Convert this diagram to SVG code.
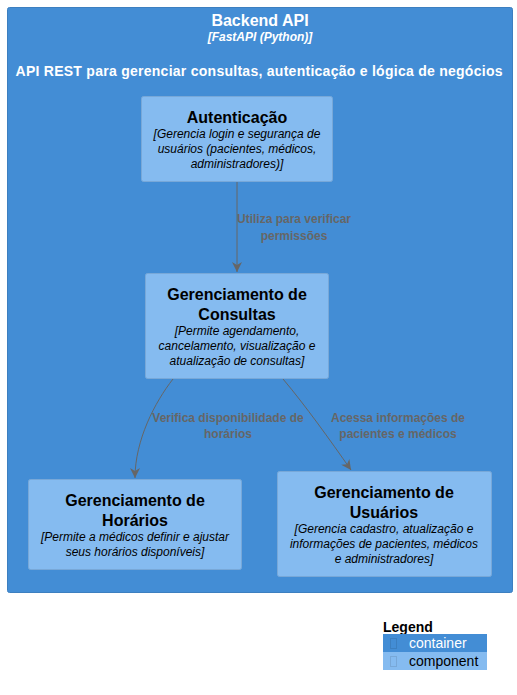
<svg xmlns="http://www.w3.org/2000/svg" width="517" height="695" viewBox="0 0 517 695">
<style>
.t{font-family:"Liberation Sans",Arial,sans-serif;text-anchor:middle}
.ct{font-size:16px;font-weight:bold;fill:#fff}
.ctech{font-size:12px;font-weight:bold;font-style:italic;fill:#fff}
.cdesc{font-size:14px;font-weight:bold;fill:#fff}
.comp{fill:#85BBF0;stroke:#78A8D8;stroke-width:1}
.nt{font-size:16px;font-weight:bold;fill:#000}
.nd{font-size:12px;font-style:italic;fill:#000}
.lbl{font-size:12px;font-weight:bold;fill:#666}
.edge{fill:none;stroke:#666;stroke-width:1}
</style>
<defs>
<marker id="arr" viewBox="0 0 10 10" refX="10" refY="5" markerWidth="10" markerHeight="10" markerUnits="userSpaceOnUse" orient="auto">
<path d="M0,0 L10,5 L0,10 L3,5 Z" fill="#666"/>
</marker>
</defs>
<rect width="517" height="695" fill="#fff"/>
<g id="backend-api">
<rect x="7.5" y="7.5" width="505" height="585" rx="2" fill="#438DD5" stroke="#3C7FC0"/>
<text class="t ct" x="260" y="26">Backend API</text>
<text class="t ctech" x="260" y="41">[FastAPI (Python)]</text>
<text class="t cdesc" x="259" y="76" textLength="487" lengthAdjust="spacing">API REST para gerenciar consultas, autenticação e lógica de negócios</text>
</g>
<g id="autenticacao">
<rect class="comp" x="141.5" y="96.5" width="191" height="85" rx="2"/>
<text class="t nt" x="237" y="123">Autenticação</text>
<text class="t nd" x="237" y="138">[Gerencia login e segurança de</text>
<text class="t nd" x="237" y="153">usuários (pacientes, médicos,</text>
<text class="t nd" x="237" y="168">administradores)]</text>
</g>
<g id="consultas">
<rect class="comp" x="145.5" y="273.5" width="183" height="105" rx="2"/>
<text class="t nt" x="237" y="300">Gerenciamento de</text>
<text class="t nt" x="237" y="320">Consultas</text>
<text class="t nd" x="237" y="335">[Permite agendamento,</text>
<text class="t nd" x="237" y="350">cancelamento, visualização e</text>
<text class="t nd" x="237" y="365">atualização de consultas]</text>
</g>
<g id="horarios">
<rect class="comp" x="28.5" y="479.5" width="213" height="90" rx="2"/>
<text class="t nt" x="135" y="506">Gerenciamento de</text>
<text class="t nt" x="135" y="526">Horários</text>
<text class="t nd" x="135" y="541">[Permite a médicos definir e ajustar</text>
<text class="t nd" x="135" y="556">seus horários disponíveis]</text>
</g>
<g id="usuarios">
<rect class="comp" x="277.5" y="471.5" width="214" height="105" rx="2"/>
<text class="t nt" x="384" y="498">Gerenciamento de</text>
<text class="t nt" x="384" y="518">Usuários</text>
<text class="t nd" x="384" y="533">[Gerencia cadastro, atualização e</text>
<text class="t nd" x="384" y="548">informações de pacientes, médicos</text>
<text class="t nd" x="384" y="563">e administradores]</text>
</g>
<g id="connectors">
<path class="edge" d="M237,182 L237,272" marker-end="url(#arr)"/>
<text class="t lbl" x="294" y="223">Utiliza para verificar</text>
<text class="t lbl" x="294" y="240">permissões</text>
<path class="edge" d="M173,379 C155,402 135,440 135,478" marker-end="url(#arr)"/>
<text class="t lbl" x="228" y="422">Verifica disponibilidade de</text>
<text class="t lbl" x="228" y="438">horários</text>
<path class="edge" d="M283,379 C305,405 330,440 351,470" marker-end="url(#arr)"/>
<text class="t lbl" x="398" y="422">Acessa informações de</text>
<text class="t lbl" x="398" y="438">pacientes e médicos</text>
</g>
<g id="legend">
<text x="383" y="632" style="font-family:'Liberation Sans',Arial,sans-serif;font-size:14px;font-weight:bold" fill="#000">Legend</text>
<rect x="383" y="634" width="104" height="18" fill="#438DD5"/>
<rect x="390.5" y="638.5" width="6" height="10" fill="none" stroke="#3C7FC0" stroke-width="1"/>
<text x="409" y="648" style="font-family:'Liberation Sans',Arial,sans-serif;font-size:14px" fill="#fff">container</text>
<rect x="383" y="652" width="104" height="18" fill="#85BBF0"/>
<rect x="390.5" y="656.5" width="6" height="10" fill="none" stroke="#78A8D8" stroke-width="1"/>
<text x="409" y="666" style="font-family:'Liberation Sans',Arial,sans-serif;font-size:14px" fill="#000">component</text>
</g>
</svg>
